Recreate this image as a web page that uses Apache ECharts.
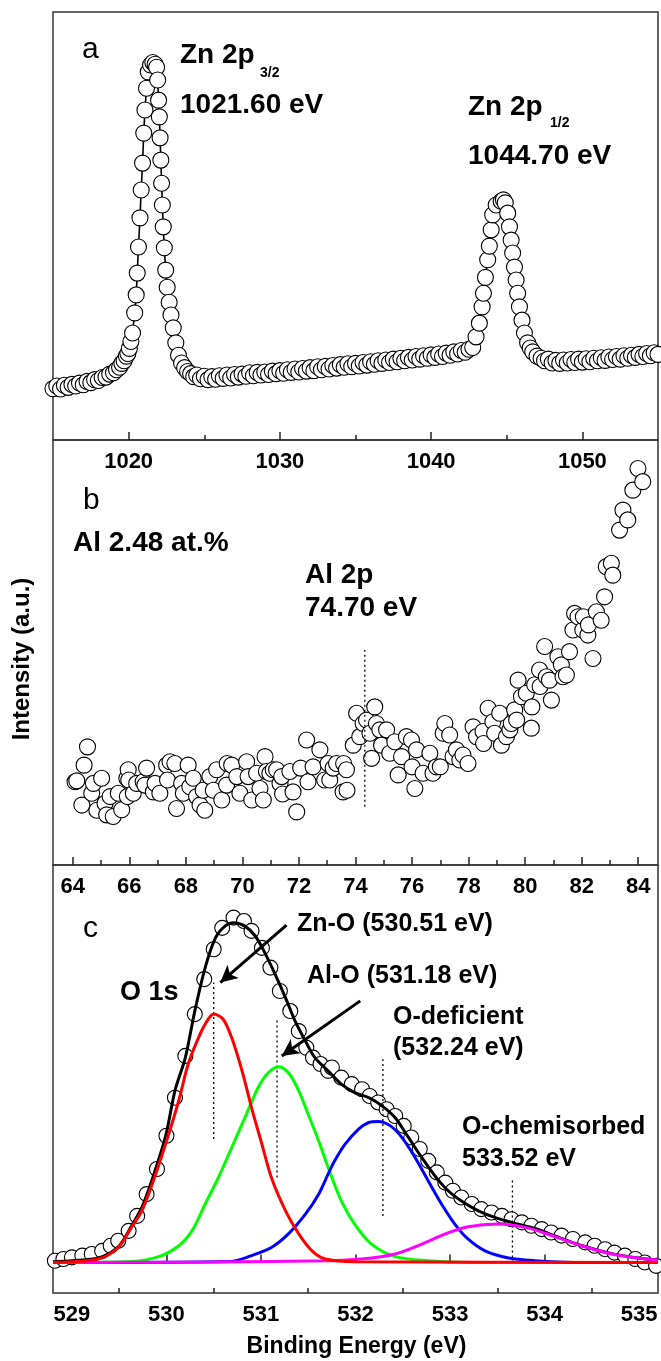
<!doctype html>
<html lang="en">
<head>
<meta charset="utf-8">
<title>XPS Zn 2p / Al 2p / O 1s</title>
<script src="https://cdn.jsdelivr.net/npm/echarts@6/dist/echarts.min.js"></script>
<style>
  html, body { margin: 0; padding: 0; background: #fff; }
</style>
</head>
<body>
<div id="xps" style="width: 661px; height: 1361px;"></div>

<script>

// ---- panel a : Zn 2p  [binding energy (eV), intensity (a.u.)]
var zn2p = [
  [1015.0,12.0],[1015.25,12.6],[1015.5,11.9],[1015.75,12.8],[1016.0,12.3],[1016.25,13.0],[1016.5,12.6],[1016.75,13.3],
  [1017.0,12.9],[1017.25,13.7],[1017.5,13.4],[1017.75,14.1],[1018.0,13.9],[1018.25,14.6],[1018.5,14.7],[1018.75,15.4],
  [1019.0,15.7],[1019.2,16.4],[1019.4,17.0],[1019.55,17.9],[1019.7,18.5],[1019.85,19.6],[1019.95,20.2],[1020.05,21.4],
  [1020.15,23.0],[1020.26,25.0],[1020.4,29.7],[1020.5,33.9],[1020.57,39.0],[1020.65,45.1],[1020.75,51.9],[1020.83,58.4],
  [1020.92,64.7],[1021.0,71.7],[1021.08,77.1],[1021.18,82.2],[1021.3,86.0],[1021.45,87.6],[1021.6,88.2],[1021.75,87.8],
  [1021.85,87.1],[1021.92,84.1],[1021.98,79.4],[1022.03,75.5],[1022.08,70.6],[1022.13,65.4],[1022.18,60.0],[1022.23,54.9],
  [1022.29,49.8],[1022.36,44.9],[1022.45,39.7],[1022.55,35.7],[1022.68,32.2],[1022.8,29.2],[1022.95,26.2],[1023.12,22.7],
  [1023.3,19.8],[1023.5,18.0],[1023.7,16.9],[1023.9,16.0],[1024.1,15.5],[1024.3,14.8],[1024.5,15.2],[1024.75,14.3],
  [1025.0,14.9],[1025.25,14.1],[1025.5,14.8],[1025.75,14.2],[1026.0,15.0],[1026.25,14.4],[1026.5,15.2],[1026.75,14.5],
  [1027.0,15.3],[1027.25,14.7],[1027.5,15.4],[1027.75,14.9],[1028.0,15.7],[1028.25,15.0],[1028.5,15.8],[1028.75,15.2],
  [1029.0,15.9],[1029.25,15.3],[1029.5,16.1],[1029.75,15.5],[1030.0,16.2],[1030.25,15.6],[1030.5,16.4],[1030.75,15.8],
  [1031.0,16.6],[1031.25,15.9],[1031.5,16.7],[1031.75,16.1],[1032.0,16.9],[1032.25,16.2],[1032.5,17.1],[1032.75,16.4],
  [1033.0,17.2],[1033.25,16.6],[1033.5,17.4],[1033.75,16.8],[1034.0,17.6],[1034.25,17.0],[1034.5,17.8],[1034.75,17.1],
  [1035.0,17.9],[1035.25,17.3],[1035.5,18.1],[1035.75,17.5],[1036.0,18.3],[1036.25,17.7],[1036.5,18.5],[1036.75,17.9],
  [1037.0,18.7],[1037.25,18.1],[1037.5,18.9],[1037.75,18.3],[1038.0,19.1],[1038.25,18.5],[1038.5,19.3],[1038.75,18.7],
  [1039.0,19.5],[1039.25,18.9],[1039.5,19.7],[1039.75,19.1],[1040.0,19.9],[1040.25,19.3],[1040.5,20.1],[1040.75,19.5],
  [1041.0,20.3],[1041.25,19.8],[1041.5,20.6],[1041.75,20.1],[1042.0,20.9],[1042.25,20.5],[1042.5,21.2],[1042.75,21.6],
  [1042.97,24.1],[1043.19,27.3],[1043.37,31.1],[1043.46,34.3],[1043.59,38.0],[1043.74,42.1],[1043.85,45.3],[1043.97,49.1],
  [1044.07,52.6],[1044.3,54.9],[1044.63,55.8],[1044.78,56.1],[1044.9,55.4],[1045.06,53.0],[1045.18,49.8],[1045.29,46.7],
  [1045.39,43.7],[1045.51,40.4],[1045.62,37.4],[1045.72,34.3],[1045.84,31.1],[1046.01,28.0],[1046.17,25.0],[1046.38,22.7],
  [1046.55,21.5],[1046.72,20.6],[1047.0,19.6],[1047.27,19.1],[1047.5,18.5],[1047.75,18.9],[1048.0,18.0],[1048.25,18.6],
  [1048.5,17.9],[1048.75,18.7],[1049.0,18.0],[1049.25,18.8],[1049.5,18.1],[1049.75,18.9],[1050.0,18.2],[1050.25,19.0],
  [1050.5,18.3],[1050.75,19.1],[1051.0,18.5],[1051.25,19.2],[1051.5,18.6],[1051.75,19.4],[1052.0,18.8],[1052.25,19.5],
  [1052.5,18.9],[1052.75,19.7],[1053.0,19.1],[1053.25,19.8],[1053.5,19.3],[1053.75,20.0],[1054.0,19.5],[1054.25,20.2],
  [1054.5,19.7],[1054.75,20.4],[1055.0,20.0]
];
var znTicks = [1020, 1030, 1040, 1050];
var znMinor = [1025, 1035, 1045];

// ---- panel b : Al 2p
var al2p = [
  [64.08,19.6],[64.14,19.8],[64.32,14.1],[64.4,23.5],[64.52,27.8],[64.67,16.9],[64.73,19.2],[64.85,12.9],
  [65.02,20.4],[65.14,14.5],[65.2,11.8],[65.32,16.1],[65.43,11.4],[65.61,16.9],[65.73,13.0],[65.91,20.4],
  [65.93,16.1],[65.96,22.4],[65.98,20.0],[66.14,16.9],[66.26,19.2],[66.49,19.6],[66.55,18.8],[66.61,22.8],
  [66.85,17.2],[66.91,19.2],[67.08,16.9],[67.32,23.5],[67.35,20.0],[67.44,24.3],[67.61,23.9],[67.67,13.3],
  [67.85,19.2],[67.91,16.9],[68.08,23.5],[68.14,18.4],[68.26,20.4],[68.38,16.1],[68.5,14.1],[68.61,17.6],
  [68.67,12.9],[68.85,20.8],[68.97,17.6],[69.09,22.4],[69.27,15.3],[69.44,18.8],[69.46,23.9],[69.62,23.5],
  [69.8,20.8],[69.91,16.9],[70.15,24.3],[70.2,20.8],[70.33,15.3],[70.5,21.6],[70.62,18.0],[70.74,15.3],
  [70.8,25.5],[70.85,22.0],[70.97,21.6],[71.09,22.4],[71.21,22.4],[71.33,19.2],[71.39,20.8],[71.42,16.7],
  [71.68,22.0],[71.79,17.2],[71.92,12.5],[72.06,22.8],[72.27,29.4],[72.32,19.6],[72.5,23.1],[72.74,27.1],
  [72.91,20.0],[73.03,23.9],[73.09,20.0],[73.21,22.8],[73.33,23.9],[73.56,17.2],[73.58,23.9],[73.68,22.4],
  [73.7,17.6],[73.92,28.2],[74.04,35.7],[74.15,30.2],[74.27,33.3],[74.39,34.1],[74.51,31.0],[74.57,25.1],
  [74.68,37.2],[74.74,33.3],[74.86,31.8],[74.92,28.2],[75.1,31.8],[75.21,26.3],[75.39,29.0],[75.51,21.2],
  [75.63,25.5],[75.8,30.2],[75.98,29.4],[76.0,23.1],[76.1,18.0],[76.16,27.1],[76.39,21.6],[76.63,26.3],
  [76.74,21.6],[76.86,23.1],[77.0,23.1],[77.1,31.0],[77.16,33.3],[77.33,30.6],[77.45,25.5],[77.57,27.1],
  [77.69,24.7],[77.8,25.9],[77.98,23.9],[78.16,32.5],[78.28,30.2],[78.51,31.4],[78.53,28.6],[78.69,36.9],
  [78.86,33.7],[78.92,31.0],[79.1,35.7],[79.16,28.2],[79.34,30.2],[79.46,31.8],[79.51,33.3],[79.63,36.5],
  [79.7,34.1],[79.75,43.5],[79.87,39.6],[80.04,40.4],[80.22,32.2],[80.24,37.2],[80.34,42.4],[80.51,45.9],
  [80.53,42.0],[80.69,51.4],[80.75,44.3],[80.86,43.5],[80.93,38.8],[81.16,49.0],[81.28,47.1],[81.34,44.3],
  [81.46,44.7],[81.57,50.2],[81.69,55.3],[81.75,59.2],[81.87,58.4],[82.04,55.3],[82.06,58.4],[82.22,54.1],
  [82.24,56.5],[82.4,48.6],[82.52,59.6],[82.69,57.6],[82.81,63.1],[82.87,70.2],[83.05,71.0],[83.1,68.2],
  [83.34,78.8],[83.46,83.5],[83.63,81.2],[83.81,88.2],[83.99,93.3],[84.16,90.2]
];
var alTicks = [64, 66, 68, 70, 72, 74, 76, 78, 80, 82, 84];
var alMinor = [65, 67, 69, 71, 73, 75, 77, 79, 81, 83];
var alMarker = [[74.33, 13.7], [74.33, 50.6]];

// ---- panel c : O 1s, measured points and fitted components
var o1s = [
  [528.82,0.5],[528.91,1.0],[529.0,1.5],[529.11,2.0],[529.21,2.5],[529.32,3.4],[529.41,4.9],[529.49,6.4],
  [529.6,9.3],[529.69,13.7],[529.79,20.1],[529.9,27.5],[530.0,37.3],[530.09,48.5],[530.2,60.8],[530.3,73.1],
  [530.4,83.4],[530.5,92.2],[530.59,98.5],[530.71,101.5],[530.82,100.5],[530.9,97.6],[531.01,92.6],[531.1,86.8],
  [531.2,79.9],[531.31,74.0],[531.4,68.1],[531.48,63.2],[531.55,60.3],[531.63,58.4],[531.71,56.4],[531.75,57.4],
  [531.85,54.4],[531.96,52.5],[532.07,51.0],[532.15,49.0],[532.24,47.1],[532.33,45.1],[532.42,43.1],[532.51,40.2],
  [532.59,36.8],[532.68,33.4],[532.77,29.9],[532.86,26.5],[532.95,23.5],[533.03,21.1],[533.12,19.1],[533.23,17.2],
  [533.33,15.7],[533.44,14.7],[533.55,13.7],[533.65,12.7],[533.76,11.8],[533.86,10.8],[533.97,9.8],[534.07,8.8],
  [534.18,7.9],[534.3,6.9],[534.43,5.9],[534.53,4.9],[534.64,3.9],[534.74,2.9],[534.85,2.0],[534.96,1.0],
  [535.06,0.0],[535.18,-1.0]
];
var envelope = [
  [528.8,0.2],[529.0,0.5],[529.28,1.3],[529.49,4.6],[529.63,10.7],[529.74,16.2],[529.85,24.5],[529.99,37.0],
  [530.09,50.5],[530.2,60.3],[530.3,74.0],[530.41,86.8],[530.52,95.6],[530.62,99.0],[530.71,100],[530.83,99.0],
  [530.94,96.1],[531.04,91.2],[531.15,84.8],[531.26,77.9],[531.36,71.1],[531.47,65.2],[531.57,60.3],[531.71,56.4],
  [531.85,52.5],[531.99,50.0],[532.14,48.5],[532.28,46.1],[532.42,42.6],[532.56,36.8],[532.7,30.9],[532.84,25.5],
  [532.98,21.1],[533.12,18.1],[533.3,15.2],[533.48,13.2],[533.69,11.5],[533.9,10.0],[534.11,7.8],[534.39,5.0],
  [534.71,2.6],[534.99,1.3],[535.2,0.7]
];
var znO = [
  [528.8,0],[529.28,1.0],[529.49,4.4],[529.63,10.3],[529.74,15.2],[529.85,23.1],[529.99,34.8],[530.13,47.6],
  [530.23,58.4],[530.34,66.2],[530.43,71.1],[530.5,73.1],[530.6,71.6],[530.69,66.2],[530.8,56.4],[530.9,45.6],
  [531.01,34.8],[531.11,25.0],[531.26,15.2],[531.4,8.4],[531.54,3.4],[531.68,1.0],[532.0,0.2],[535.2,0]
];
var alO = [
  [528.8,0],[529.63,0.3],[529.92,1.7],[530.13,4.9],[530.27,9.3],[530.41,17.2],[530.55,25.0],[530.69,33.8],
  [530.83,42.6],[530.97,51.5],[531.08,55.9],[531.19,57.6],[531.29,55.9],[531.4,50.5],[531.5,43.6],[531.61,35.8],
  [531.71,28.0],[531.85,18.1],[531.99,11.3],[532.17,5.4],[532.42,1.7],[532.77,0.5],[533.2,0],[535.2,0]
];
var oDeficient = [
  [528.8,0],[530.69,0.3],[530.9,2.0],[531.11,4.4],[531.29,8.4],[531.47,14.2],[531.61,20.1],[531.71,26.0],
  [531.78,29.9],[531.89,34.8],[532.03,39.2],[532.14,41.2],[532.24,41.5],[532.37,40.2],[532.49,36.8],[532.63,30.9],
  [532.77,24.0],[532.91,17.2],[533.05,11.3],[533.19,6.9],[533.37,3.4],[533.62,1.3],[533.9,0.5],[534.3,0],[535.2,0]
];
var oChem = [
  [528.8,0],[530.5,0.1],[531.71,0.5],[532.06,1.0],[532.42,2.5],[532.7,5.4],[532.95,8.4],[533.19,10.5],
  [533.51,11.3],[533.83,10.1],[534.11,7.6],[534.39,4.9],[534.71,2.5],[534.99,1.3],[535.2,0.7]
];
var oTicks = [529, 530, 531, 532, 533, 534, 535];
var oMinor = [529.5, 530.5, 531.5, 532.5, 533.5, 534.5];
var oMarkers = [
  [[530.5, 36.3], [530.5, 82.4]],
  [[531.17, 25.0], [531.17, 71.6]],
  [[532.29, 13.7], [532.29, 59.8]],
  [[533.66, 0], [533.66, 25.0]]
];
var oArrows = [
  [[531.27, 99.3], [530.57, 82.4]],
  [[532.05, 77.0], [531.22, 60.8]]
];

var FONT = '"Liberation Sans", Arial, sans-serif';
var myChart = echarts.init(document.getElementById('xps'), null, { renderer: 'canvas' });

function majorAxis(grid, min, max, ticks) {
    return {
        type: 'value', gridIndex: grid, min: min, max: max, position: 'bottom',
        axisLine: { show: false },
        splitLine: { show: false },
        axisTick: { show: true, inside: true, length: 8, customValues: ticks,
                    lineStyle: { color: '#222', width: 1.5 } },
        axisLabel: { show: true, customValues: ticks, margin: 11, color: '#000',
                     fontSize: 22, fontWeight: 'bold', fontFamily: FONT,
                     formatter: function (v) { return String(v); } }
    };
}
function minorAxis(grid, min, max, ticks) {
    return {
        type: 'value', gridIndex: grid, min: min, max: max, position: 'bottom', offset: 0,
        axisLine: { show: false },
        splitLine: { show: false },
        axisTick: { show: true, inside: true, length: 5, customValues: ticks,
                    lineStyle: { color: '#222', width: 1.5 } },
        axisLabel: { show: false }
    };
}
function hiddenY(grid, min, max) {
    return { type: 'value', gridIndex: grid, min: min, max: max, show: false, splitLine: { show: false } };
}
function fitLine(name, data, color) {
    return {
        name: name, type: 'line', xAxisIndex: 4, yAxisIndex: 2, data: data,
        smooth: 0.3, showSymbol: false, lineStyle: { color: color, width: 3 }, silent: true
    };
}
function txt(str, x, y, size, weight) {
    return {
        type: 'text', x: x, y: y, silent: true,
        style: { text: str, fill: '#000', font: (weight || 'bold') + ' ' + size + 'px ' + FONT,
                 textAlign: 'left', verticalAlign: 'middle' }
    };
}

var series = [
    {
        name: 'Zn 2p', type: 'line', xAxisIndex: 0, yAxisIndex: 0, data: zn2p,
        symbol: 'circle', symbolSize: 16, showAllSymbol: true,
        itemStyle: { color: '#fff', borderColor: '#000', borderWidth: 1.1 },
        lineStyle: { color: '#000', width: 1.6 }, silent: true
    },
    {
        name: 'Al 2p', type: 'scatter', xAxisIndex: 2, yAxisIndex: 1, data: al2p,
        symbol: 'circle', symbolSize: 16,
        itemStyle: { color: '#fff', borderColor: '#000', borderWidth: 1.1, opacity: 1 }, silent: true
    },
    {
        name: 'Al 2p marker', type: 'line', xAxisIndex: 2, yAxisIndex: 1, data: alMarker,
        showSymbol: false, lineStyle: { color: '#000', width: 1.3, type: [2, 3] }, silent: true
    },
    {
        name: 'O 1s', type: 'scatter', xAxisIndex: 4, yAxisIndex: 2, data: o1s,
        symbol: 'circle', symbolSize: 15,
        itemStyle: { color: '#fff', borderColor: '#000', borderWidth: 1.1, opacity: 1 }, silent: true
    }
];
oMarkers.forEach(function (m, i) {
    series.push({
        name: 'marker' + i, type: 'line', xAxisIndex: 4, yAxisIndex: 2, data: m,
        showSymbol: false, lineStyle: { color: '#000', width: 1.3, type: [2, 3] }, silent: true
    });
});
series.push(Object.assign(fitLine('fit', envelope, '#000'), {
    markLine: {
        silent: true, symbol: ['none', 'arrow'], symbolSize: [13, 17],
        label: { show: false },
        lineStyle: { color: '#000', width: 3, type: 'solid' },
        data: oArrows.map(function (a) { return [{ coord: a[0] }, { coord: a[1] }]; })
    }
}));
series.push(fitLine('Al-O', alO, '#00ff00'));
series.push(fitLine('O-deficient', oDeficient, '#0000ff'));
series.push(fitLine('O-chemisorbed', oChem, '#ff00ff'));
series.push(fitLine('Zn-O', znO, '#ff0000'));

myChart.setOption({
    backgroundColor: '#fff',
    animation: false,
    grid: [
        { left: 53, right: 3, top: 12, height: 428, show: true, borderColor: '#333', borderWidth: 1.5 },
        { left: 53, right: 3, top: 440, height: 425, show: true, borderColor: '#333', borderWidth: 1.5 },
        { left: 53, right: 3, top: 865, height: 428, show: true, borderColor: '#333', borderWidth: 1.5 }
    ],
    xAxis: [
        majorAxis(0, 1015, 1055, znTicks), minorAxis(0, 1015, 1055, znMinor),
        majorAxis(1, 63.3, 84.7, alTicks), minorAxis(1, 63.3, 84.7, alMinor),
        majorAxis(2, 528.8, 535.2, oTicks), minorAxis(2, 528.8, 535.2, oMinor)
    ],
    yAxis: [hiddenY(0, 0, 100), hiddenY(1, 0, 100), hiddenY(2, -9, 117)],
    series: series,
    graphic: [
        txt('a', 82, 49.5, 30, 'normal'),
        txt('Zn 2p', 180, 55, 28),
        txt('3/2', 260, 73.5, 14),
        txt('1021.60 eV', 180, 105, 28),
        txt('Zn 2p', 468, 107, 28),
        txt('1/2', 550, 123.5, 14),
        txt('1044.70 eV', 468, 156, 28),
        txt('b', 83, 501, 30, 'normal'),
        txt('Al 2.48 at.%', 73, 543, 28),
        txt('Al 2p', 305, 575, 28),
        txt('74.70 eV', 305, 608.5, 28),
        txt('c', 83, 929, 30, 'normal'),
        txt('O 1s', 120, 992.5, 27),
        txt('Zn-O (530.51 eV)', 297, 924.5, 25),
        txt('Al-O (531.18 eV)', 307, 976, 25),
        txt('O-deficient', 393, 1017, 25),
        txt('(532.24 eV)', 393, 1048, 25),
        txt('O-chemisorbed', 462, 1127, 25),
        txt('533.52 eV', 462, 1159.5, 25),
        {
            type: 'text', x: 356.5, y: 1347, silent: true,
            style: { text: 'Binding Energy (eV)', fill: '#000', font: 'bold 23px ' + FONT,
                     textAlign: 'center', verticalAlign: 'middle' }
        },
        {
            type: 'text', x: 22, y: 659, rotation: Math.PI / 2, silent: true,
            style: { text: 'Intensity (a.u.)', fill: '#000', font: 'bold 24px ' + FONT,
                     textAlign: 'center', verticalAlign: 'middle' }
        }
    ]
});

</script>
</body>
</html>
